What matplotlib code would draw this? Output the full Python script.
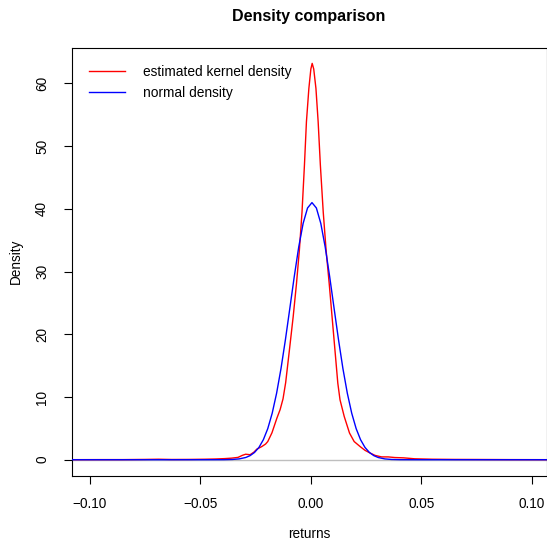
import matplotlib
matplotlib.use("Agg")
import matplotlib.pyplot as plt

plt.rcParams['font.family'] = ['Liberation Sans', 'DejaVu Sans']

# estimated kernel density
kde_x = [-0.108, -0.095, -0.085, -0.075, -0.069, -0.063, -0.055, -0.048, -0.043,
         -0.039, -0.036, -0.033, -0.031, -0.0295, -0.0275, -0.0258, -0.0244,
         -0.0222, -0.0205, -0.0195, -0.0176, -0.0154, -0.0139, -0.0126, -0.0114,
         -0.0097, -0.0080, -0.0065, -0.0052, -0.0040, -0.0029, -0.0020, -0.0009,
         0.0000, 0.0006, 0.0013, 0.0023, 0.0033, 0.0043, 0.0056, 0.0069, 0.0083,
         0.0096, 0.0109, 0.0122, 0.0132, 0.0151, 0.0175, 0.0196, 0.0223, 0.0245,
         0.0268, 0.029, 0.032, 0.035, 0.038, 0.042, 0.047, 0.055, 0.065, 0.075,
         0.09, 0.107]
kde_y = [0.01, 0.02, 0.02, 0.05, 0.08, 0.04, 0.05, 0.08, 0.12,
         0.18, 0.25, 0.37, 0.7, 0.88, 0.8, 1.2, 1.7,
         2.1, 2.5, 2.9, 4.3, 6.6, 8.0, 9.7, 12.3,
         17.5, 22.8, 28.1, 33.4, 39.5, 47.0, 53.9, 59.2,
         62.3, 63.2, 62.3, 59.2, 53.9, 47.0, 39.5, 33.4, 28.1,
         22.8, 17.5, 12.2, 9.55, 6.9, 4.25, 2.9, 2.1, 1.5,
         1.07, 0.7, 0.45, 0.45, 0.35, 0.3, 0.15, 0.08, 0.05, 0.04,
         0.02, 0.01]

# normal density
norm_x = [-0.108, -0.06, -0.0495, -0.0395, -0.0355, -0.0325, -0.0295, -0.0275,
          -0.0255, -0.0235, -0.0215, -0.0195, -0.0175, -0.0155, -0.0135, -0.0115,
          -0.0095, -0.0075, -0.0055, -0.0035, -0.0015, 0.0005, 0.0025, 0.0045,
          0.0065, 0.0085, 0.0105, 0.0125, 0.0145, 0.0165, 0.0185, 0.0205, 0.0225,
          0.0245, 0.0265, 0.0285, 0.0305, 0.0335, 0.0365, 0.0405, 0.0505, 0.06, 0.108]
norm_y = [0.0, 0.0, 0.001, 0.009, 0.044, 0.130, 0.354, 0.652,
          1.16, 1.96, 3.19, 4.96, 7.41, 10.61, 14.56, 19.17,
          24.18, 29.23, 33.90, 37.68, 40.14, 41.0, 40.14, 37.68,
          33.90, 29.23, 24.18, 19.17, 14.56, 10.61, 7.41, 4.96, 3.19,
          1.96, 1.16, 0.652, 0.354, 0.130, 0.044, 0.009, 0.001, 0.0, 0.0]

xticks = [-0.10, -0.05, 0.00, 0.05, 0.10]
xtick_labels = ["\u22120.10", "\u22120.05", "0.00", "0.05", "0.10"]
yticks = [0, 10, 20, 30, 40, 50, 60]

W, H = 547, 540
fig = plt.figure(figsize=(W / 100, H / 100), dpi=100)
ax = fig.add_axes([72 / W, 1 - 475.6 / H, (547.5 - 72) / W, (475.6 - 47.5) / H])

ax.axhline(0, color='#BEBEBE', lw=1.0, zorder=1)
ax.plot(kde_x, kde_y, color='#FF0000', lw=1.0, label='estimated kernel density', zorder=2)
ax.plot(norm_x, norm_y, color='#0000FF', lw=1.0, label='normal density', zorder=3)

ax.set_xlim(-0.1081, 0.1071)
ax.set_ylim(-2.53, 65.73)

ax.set_xticks(xticks)
ax.set_xticklabels(xtick_labels)
ax.set_yticks(yticks)
ax.set_yticklabels([str(v) for v in yticks], rotation=90, va='center')

for s in ax.spines.values():
    s.set_linewidth(0.8)
    s.set_color('black')
ax.tick_params(axis='both', direction='out', length=5.5, width=0.8, labelsize=9.8, colors='black')
ax.tick_params(axis='x', pad=10)
ax.tick_params(axis='y', pad=11)

ax.set_xlabel('returns', fontsize=9.8, labelpad=11.5)
ax.set_ylabel('Density', fontsize=9.8, labelpad=8.5)
fig.text(309 / W, 1 - 16 / H, 'Density comparison', ha='center', va='center',
         fontsize=11.5, fontweight='bold')

ax.legend(loc='upper left', bbox_to_anchor=(0.002, 0.998), borderaxespad=0, frameon=False,
          fontsize=9.9, handlelength=2.62, handletextpad=1.26, labelspacing=0.52,
          borderpad=1.2)

fig.savefig('out.png', dpi=100)
